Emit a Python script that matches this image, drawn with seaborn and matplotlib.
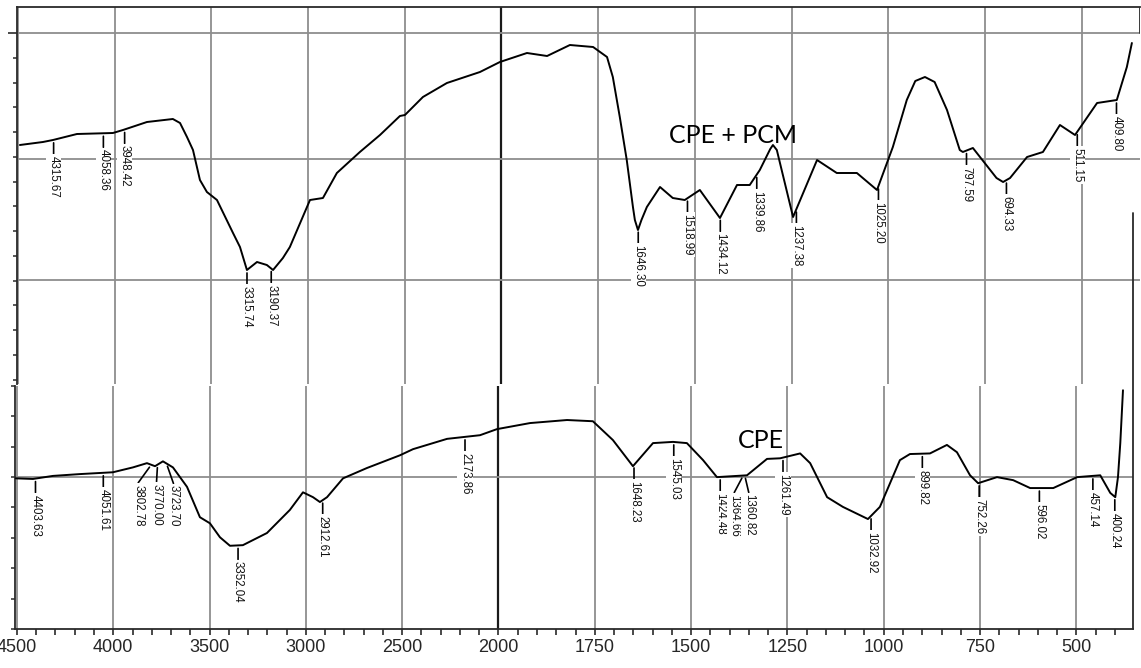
import numpy as np
import pandas as pd
import matplotlib
matplotlib.use("Agg")
import matplotlib.pyplot as plt
import seaborn as sns
from matplotlib.ticker import FixedLocator, FixedFormatter, NullFormatter

# ---------------- data ----------------
# CPE + PCM spectrum (upper trace): wavenumber (cm-1) and transmittance (a.u.)
top_wn = [4490, 4371, 4319, 4195, 4009, 3957, 3833, 3699, 3662, 3626,
          3595, 3559, 3523, 3471, 3388, 3352, 3316, 3264, 3213, 3181,
          3130, 3094, 2990, 2923, 2851, 2732, 2628, 2525, 2499, 2406,
          2282, 2111, 2008, 1934, 1882, 1823, 1763, 1727, 1712, 1694,
          1676, 1660, 1655, 1647, 1638, 1624, 1590, 1557, 1526, 1487,
          1435, 1391, 1358, 1332, 1305, 1298, 1288, 1246, 1184, 1133,
          1081, 1029, 988, 952, 930, 905, 880, 848, 815, 807,
          781, 720, 703, 685, 641, 600, 556, 517, 460, 409,
          383, 370]
top_T = [57.6, 58.2, 58.6, 59.8, 60.0, 60.6, 62.2, 62.8, 62.0, 59.2,
         56.6, 50.6, 48.2, 46.6, 40.0, 37.2, 32.6, 34.2, 33.6, 32.6,
         35.0, 37.2, 46.6, 47.0, 52.0, 56.2, 59.6, 63.4, 63.6, 67.2,
         70.0, 72.2, 74.2, 76.0, 75.4, 77.6, 77.2, 75.2, 71.2, 63.2,
         54.6, 45.2, 42.6, 40.6, 42.6, 45.2, 49.2, 47.0, 46.6, 48.6,
         43.0, 49.6, 49.6, 52.6, 56.8, 57.6, 56.6, 43.2, 54.6, 52.0,
         52.0, 48.6, 57.2, 66.6, 70.4, 71.2, 70.2, 64.6, 56.6, 56.2,
         57.0, 51.0, 50.2, 51.0, 55.2, 56.2, 61.6, 59.6, 66.0, 66.6,
         73.2, 78.0]

# CPE spectrum (lower trace)
bot_wn = [4505, 4417, 4313, 4173, 4002, 3898, 3825, 3783, 3742, 3690,
          3617, 3550, 3498, 3446, 3394, 3327, 3202, 3083, 3015, 2963,
          2927, 2890, 2807, 2683, 2511, 2444, 2267, 2096, 2008, 1918,
          1822, 1755, 1703, 1651, 1599, 1547, 1511, 1469, 1433, 1355,
          1303, 1269, 1217, 1191, 1147, 1106, 1041, 1010, 958, 932,
          880, 836, 810, 776, 755, 706, 664, 620, 560, 498,
          438, 412, 399, 392, 386, 379]
bot_T = [49.8, 49.7, 50.2, 50.5, 50.8, 51.6, 52.3, 51.8, 52.6, 51.6,
         48.4, 43.4, 42.4, 40.1, 38.7, 38.8, 40.8, 44.6, 47.5, 46.7,
         45.9, 46.7, 49.8, 51.5, 53.6, 54.6, 56.3, 56.9, 57.9, 58.9,
         59.4, 59.2, 56.1, 51.8, 55.6, 55.8, 55.6, 52.8, 50.0, 50.3,
         53.0, 53.1, 53.9, 52.3, 46.7, 45.1, 43.1, 45.1, 52.8, 53.8,
         53.9, 55.3, 54.1, 50.3, 49.0, 50.0, 49.5, 48.2, 48.2, 50.0,
         50.3, 47.4, 46.7, 50.0, 55.6, 64.3]

# peak labels
top_peaks = [4315.67, 4058.36, 3948.42, 3315.74, 3190.37, 1646.30, 1518.99,
             1434.12, 1339.86, 1237.38, 1025.20, 797.59, 694.33, 511.15, 409.80]
bot_peaks = [4403.63, 4051.61, 3802.78, 3770.00, 3723.70, 3352.04, 2912.61,
             2173.86, 1648.23, 1545.03, 1424.48, 1364.66, 1360.82, 1261.49,
             1032.92, 899.82, 752.26, 596.02, 457.14, 400.24]

# x tick labels
x_major = [4500, 4000, 3500, 3000, 2500, 2000, 1750, 1500, 1250, 1000, 750, 500]
x_major_labels = [str(v) for v in x_major]

series_top_name = "CPE + PCM"
series_bot_name = "CPE"

assert len(top_wn) == len(top_T) and len(bot_wn) == len(bot_T)

# ---------------- style ----------------
sns.set_style("white")
plt.rcParams["font.family"] = ["Liberation Sans", "DejaVu Sans"]

W, H = 1141, 668
fig = plt.figure(figsize=(W / 100, H / 100), dpi=100)


def px_axes(l, t, r, b):
    return fig.add_axes([l / W, 1 - b / H, (r - l) / W, (b - t) / H])


ax_top = px_axes(17, 7, 1140, 384)
ax_bot = px_axes(15, 386, 1133, 629)


# piecewise-linear wavenumber scale (500 per division above 2000, 250 below);
# increasing in wavenumber so that xlim(high, low) gives the usual reversed axis
def fwd(w):
    w = np.asarray(w, float)
    return np.where(w >= 2000, (w - 4500) / 500, -5 - (2000 - w) / 250)


def inv(p):
    p = np.asarray(p, float)
    return np.where(p >= -5, 4500 + 500 * p, 2000 - 250 * (-p - 5))


GRID = "#8e8e8e"
DARK = "#2a2a2a"

df_top = pd.DataFrame({"wn": top_wn, "T": top_T})
df_bot = pd.DataFrame({"wn": bot_wn, "T": bot_T})

sns.lineplot(data=df_top, x="wn", y="T", ax=ax_top, color="black", lw=1.4,
             sort=False, estimator=None, zorder=5)
sns.lineplot(data=df_bot, x="wn", y="T", ax=ax_bot, color="black", lw=1.4,
             sort=False, estimator=None, zorder=5)

minor_x = [v for v in list(range(4500, 1999, -100)) + list(range(2000, 349, -50))
           if v not in x_major]

for ax, xl in ((ax_top, (4505, 349)), (ax_bot, (4510, 353))):
    ax.set_xscale("function", functions=(fwd, inv))
    ax.set_xlim(*xl)
    ax.xaxis.set_major_locator(FixedLocator(x_major))
    ax.grid(axis="x", which="major", color=GRID, lw=1.3)
    ax.grid(axis="y", visible=False)
    ax.axvline(2000, color="#1a1a1a", lw=1.6, zorder=1)
    ax.set_xlabel("")
    ax.set_ylabel("")
    ax.set_facecolor("white")

# --- top axes
ax_top.set_ylim(9.8, 85.2)
ax_top.yaxis.set_major_locator(FixedLocator([80]))
ax_top.yaxis.set_minor_locator(FixedLocator(list(np.arange(80 - 4.95, 9.8, -4.95))))
ax_top.yaxis.set_major_formatter(NullFormatter())
ax_top.axhline(80, color=GRID, lw=1.3, zorder=1)
ax_top.axhline(54.9, color=GRID, lw=1.3, zorder=1)
ax_top.axhline(30.6, color=GRID, lw=1.3, zorder=1)
ax_top.tick_params(axis="x", which="both", length=0, labelbottom=False)
ax_top.tick_params(axis="y", which="major", direction="out", length=6.5, width=1.2, color=DARK, left=True)
ax_top.tick_params(axis="y", which="minor", direction="out", length=3, width=1.1, color=DARK, left=True)
for s in ("bottom", "right"):
    ax_top.spines[s].set_visible(False)
for s in ("top", "left"):
    ax_top.spines[s].set_color(DARK)
    ax_top.spines[s].set_linewidth(1.3)
ax_top.axvline(349, ymin=(80 - 9.8) / (85.2 - 9.8), ymax=1, color=DARK, lw=1.3)

# --- bottom axes
ax_bot.set_ylim(25, 65)
ax_bot.yaxis.set_major_locator(FixedLocator([]))
ax_bot.yaxis.set_minor_locator(FixedLocator(list(range(25, 66, 5))))
ax_bot.axhline(50, color=GRID, lw=1.3, zorder=1)
ax_bot.xaxis.set_major_formatter(FixedFormatter(x_major_labels))
ax_bot.xaxis.set_minor_locator(FixedLocator(minor_x))
ax_bot.tick_params(axis="x", which="both", direction="out", length=4, width=1.2,
                   color=DARK, labelsize=13, pad=3, bottom=True)
ax_bot.tick_params(axis="y", which="minor", direction="out", length=3, width=1.1, color=DARK, left=True)
for s in ("top", "right"):
    ax_bot.spines[s].set_visible(False)
for s in ("bottom", "left"):
    ax_bot.spines[s].set_color(DARK)
    ax_bot.spines[s].set_linewidth(1.3)
ax_bot.axvline(353, ymin=0, ymax=(629 - 213) / (629 - 386), color=DARK, lw=1.3, clip_on=False)

# ---------------- peak labels ----------------
PT = 0.72  # points per pixel at 100 dpi


def label_peaks(ax, wn, T, peaks, shifts):
    xs = np.asarray(wn, float)[::-1]
    ys = np.asarray(T, float)[::-1]
    for p in peaks:
        yv = float(np.interp(p, xs, ys))
        dx, top = shifts.get(p, (0, 16))
        ax.annotate("", xy=(p, yv), xytext=(dx * PT, -(top - 2) * PT),
                    textcoords="offset points",
                    arrowprops=dict(arrowstyle="-", lw=1.2, color="black",
                                    shrinkA=0, shrinkB=3 * PT), zorder=6)
        ax.annotate(f"{p:.2f}", xy=(p, yv), xytext=(dx * PT, -top * PT),
                    textcoords="offset points", rotation=270, ha="center", va="top",
                    fontsize=8.3, color="#111111", zorder=6,
                    bbox=dict(boxstyle="square,pad=0.15", fc="white", ec="none"))


label_peaks(ax_top, top_wn, top_T, top_peaks, {})
label_peaks(ax_bot, bot_wn, bot_T, bot_peaks,
            {3802.78: (-13, 20), 3770.00: (-1, 19), 3723.70: (7, 22),
             1364.66: (-9, 19), 1360.82: (4, 19)})

# ---------------- series names ----------------
ax_top.text(0.6376, 0.639, series_top_name, transform=ax_top.transAxes, ha="center",
            va="baseline", fontsize=18, family=["Lato", "DejaVu Sans"], color="black", zorder=7)
ax_bot.text(0.667, 0.745, series_bot_name, transform=ax_bot.transAxes, ha="center",
            va="baseline", fontsize=18, family=["Lato", "DejaVu Sans"], color="black", zorder=7)

fig.savefig("out.png", dpi=100)
